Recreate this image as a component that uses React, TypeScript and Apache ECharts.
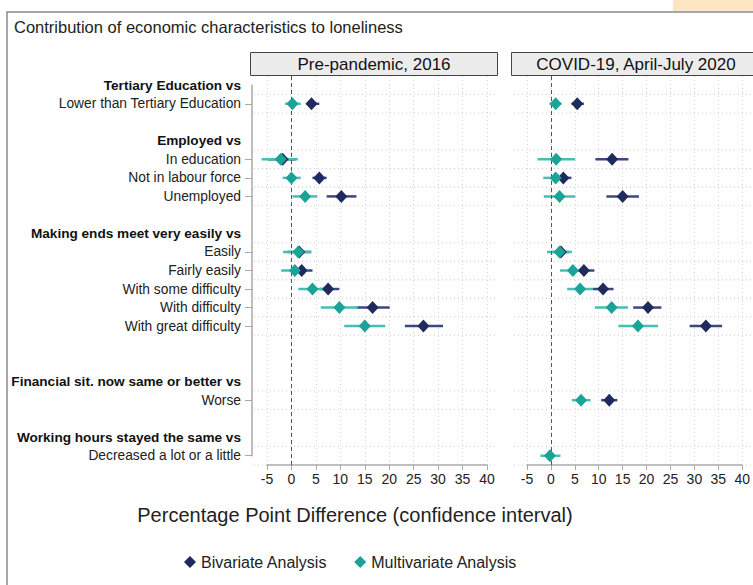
import React, { useEffect, useRef } from "react";
import * as echarts from "echarts";

const TITLE = "Contribution of economic characteristics to loneliness";
const PANEL_TITLES = ["Pre-pandemic, 2016", "COVID-19, April-July 2020"];
const AXIS_TITLE = "Percentage Point Difference (confidence interval)";
const SERIES_NAMES = ["Bivariate Analysis", "Multivariate Analysis"];

// y slots, top to bottom ("_gapN" = empty slot)
const rowKeys = [
  "Tertiary Education vs",
  "Lower than Tertiary Education",
  "_gap1",
  "Employed vs",
  "In education",
  "Not in labour force",
  "Unemployed",
  "_gap2",
  "Making ends meet very easily vs",
  "Easily",
  "Fairly easily",
  "With some difficulty",
  "With difficulty",
  "With great difficulty",
  "_gap3",
  "_gap4",
  "Financial sit. now same or better vs",
  "Worse",
  "_gap5",
  "Working hours stayed the same vs",
  "Decreased a lot or a little",
];
const headerRows = [
  "Tertiary Education vs",
  "Employed vs",
  "Making ends meet very easily vs",
  "Financial sit. now same or better vs",
  "Working hours stayed the same vs",
];
const dataRows = [
  "Lower than Tertiary Education",
  "In education",
  "Not in labour force",
  "Unemployed",
  "Easily",
  "Fairly easily",
  "With some difficulty",
  "With difficulty",
  "With great difficulty",
  "Worse",
  "Decreased a lot or a little",
];

// Pre-pandemic 2016
const pre_biv = [4.1, -1.8, 5.7, 10.2, 1.6, 2.1, 7.5, 16.6, 27.0, null, null];
const pre_biv_lo = [3.1, -4.8, 4.3, 7.2, -0.8, -0.2, 5.8, 13.3, 23.2, null, null];
const pre_biv_hi = [5.7, 0.9, 7.2, 13.3, 4.0, 4.3, 9.8, 20.1, 31.0, null, null];
const pre_mul = [0.2, -2.2, 0.0, 2.8, 1.4, 0.7, 4.3, 9.8, 15.0, null, null];
const pre_mul_lo = [-1.3, -6.1, -1.8, 0.2, -1.7, -2.1, 1.4, 6.0, 10.8, null, null];
const pre_mul_hi = [1.9, 1.3, 1.9, 5.3, 4.1, 3.3, 6.8, 13.6, 19.2, null, null];

// COVID-19 2020
const cov_biv = [5.5, 12.8, 2.6, 15.0, 2.1, 6.9, 10.9, 20.3, 32.4, 12.2, null];
const cov_biv_lo = [4.3, 9.3, 1.0, 11.6, 0.3, 4.8, 8.8, 17.2, 29.0, 10.5, null];
const cov_biv_hi = [6.9, 16.2, 4.3, 18.4, 3.8, 9.1, 13.1, 23.1, 35.8, 13.9, null];
const cov_mul = [1.0, 1.1, 1.0, 1.8, 1.8, 4.6, 6.1, 12.7, 18.2, 6.3, -0.2];
const cov_mul_lo = [-0.3, -2.8, -1.6, -1.5, -0.8, 1.9, 3.4, 9.2, 14.1, 4.4, -2.2];
const cov_mul_hi = [2.2, 5.1, 3.4, 5.1, 4.4, 7.0, 8.8, 16.1, 22.4, 8.3, 2.0];

const xTicks = { min: -5, max: 40, interval: 5 };

const NAVY = "#1f2a5e";
const NAVY_LINE = "#3b4780";
const TEAL = "#1ba398";
const TEAL_LINE = "#45bfb3";
const FONT = "'Liberation Sans', Arial, sans-serif";

const PLOT_TOP = 76;
const PLOT_H = 389;

export default function App() {
  const ref = useRef<HTMLDivElement>(null);
  useEffect(() => {
    document.body.style.margin = "0";
    const chart = echarts.init(ref.current!, null, { renderer: "svg" });
    const rowIndex = (k: string) => rowKeys.indexOf(k);
    const dataRowIdx = dataRows.map(rowIndex);

    const points = (vals: (number | null)[]) =>
      vals
        .map((v, i) => (v == null ? null : [v, dataRowIdx[i]]))
        .filter((d) => d !== null);
    const intervals = (lo: (number | null)[], hi: (number | null)[]) =>
      lo
        .map((l, i) => (l == null || hi[i] == null ? null : [l, hi[i], dataRowIdx[i]]))
        .filter((d) => d !== null);

    const gridLineSeries = (gi: number) => ({
      type: "custom",
      name: "grid" + gi,
      xAxisIndex: gi,
      yAxisIndex: gi,
      silent: true,
      z: 1,
      data: dataRowIdx.map((r) => [0, r]),
      encode: { x: 0, y: 1 },
      renderItem: (params: any, api: any) => {
        const c = api.coord([0, api.value(1)]);
        const h = api.size([0, 1])[1];
        const cs = params.coordSys;
        const x1 = cs.x - 13;
        const x2 = cs.x + cs.width + 10;
        const style = { stroke: "#cfcfcf", lineWidth: 1, lineDash: [1, 3] };
        return {
          type: "group",
          children: [
            { type: "line", shape: { x1, y1: c[1] - h / 2, x2, y2: c[1] - h / 2 }, style },
            { type: "line", shape: { x1, y1: c[1] + h / 2, x2, y2: c[1] + h / 2 }, style },
          ],
        };
      },
    });

    const ciSeries = (gi: number, name: string, data: any[], color: string) => ({
      type: "custom",
      name,
      xAxisIndex: gi,
      yAxisIndex: gi,
      silent: true,
      z: 3,
      data,
      encode: { x: [0, 1], y: 2 },
      renderItem: (_p: any, api: any) => {
        const a = api.coord([api.value(0), api.value(2)]);
        const b = api.coord([api.value(1), api.value(2)]);
        return {
          type: "line",
          shape: { x1: a[0], y1: a[1], x2: b[0], y2: b[1] },
          style: { stroke: color, lineWidth: 2.5 },
        };
      },
    });

    const ptSeries = (gi: number, name: string, data: any[], color: string, z: number) => ({
      type: "scatter",
      name,
      xAxisIndex: gi,
      yAxisIndex: gi,
      symbol: "diamond",
      symbolSize: [12, 13],
      itemStyle: { color, opacity: 1 },
      z,
      data,
      markLine:
        name === SERIES_NAMES[0]
          ? {
              silent: true,
              symbol: "none",
              label: { show: false },
              lineStyle: { color: "#555", type: [4, 3], width: 1 },
              data: [{ xAxis: 0 }],
            }
          : undefined,
    });

    const xAxisDef = (gi: number) => ({
      type: "value",
      gridIndex: gi,
      min: xTicks.min,
      max: xTicks.max,
      interval: xTicks.interval,
      axisLine: { show: true, lineStyle: { color: "#a8a8a8", width: 1.5 } },
      axisTick: { show: true, length: 5, lineStyle: { color: "#a8a8a8" } },
      axisLabel: { fontSize: 14, color: "#222", fontFamily: FONT, margin: 7 },
      splitLine: { show: true, lineStyle: { color: "#d6d6d6", type: [1, 3], width: 1 } },
    });
    const yAxisHidden = (gi: number) => ({
      type: "category",
      gridIndex: gi,
      data: rowKeys,
      inverse: true,
      boundaryGap: true,
      show: false,
    });

    const band = PLOT_H / rowKeys.length;

    chart.setOption({
      animation: false,
      backgroundColor: "#fff",
      grid: [
        { left: 267, width: 220, top: PLOT_TOP, height: PLOT_H },
        { left: 527, width: 221, top: PLOT_TOP, height: PLOT_H },
        { left: 252, width: 1, top: PLOT_TOP + band / 2, height: PLOT_H - band },
      ],
      xAxis: [xAxisDef(0), xAxisDef(1), { type: "value", gridIndex: 2, show: false }],
      yAxis: [
        yAxisHidden(0),
        yAxisHidden(1),
        {
          type: "category",
          gridIndex: 2,
          data: rowKeys,
          inverse: true,
          boundaryGap: false,
          axisLine: { show: true, lineStyle: { color: "#a8a8a8", width: 1.5 } },
          axisTick: {
            show: true,
            length: 7,
            lineStyle: { color: "#a8a8a8" },
            interval: (_i: number, v: string) => dataRows.includes(v),
          },
          axisLabel: {
            interval: 0,
            margin: 11,
            fontSize: 13.8,
            color: "#222",
            fontFamily: FONT,
            formatter: (v: string) =>
              v.startsWith("_gap") ? "" : headerRows.includes(v) ? `{b|${v}}` : v,
            rich: {
              b: { fontWeight: "bold", fontSize: 13.6, color: "#111", fontFamily: FONT },
            },
          },
          splitLine: { show: false },
        },
      ],
      legend: {
        data: SERIES_NAMES,
        left: 179,
        top: 549,
        icon: "diamond",
        itemWidth: 12,
        itemHeight: 12,
        itemGap: 27,
        textStyle: { fontSize: 16, color: "#222", fontFamily: FONT },
      },
      graphic: [
        { type: "rect", shape: { x: 673, y: 0, width: 80, height: 11 }, style: { fill: "#fde5c2" }, silent: true },
        {
          type: "rect",
          shape: { x: 7, y: 12, width: 800, height: 600 },
          style: { fill: "none", stroke: "#8a8a8a", lineWidth: 1.5 },
          silent: true,
        },
        {
          type: "text",
          x: 14,
          y: 27,
          style: { text: TITLE, fontSize: 16.5, fill: "#222", fontFamily: FONT, verticalAlign: "middle" },
        },
        {
          type: "rect",
          shape: { x: 250.5, y: 52.5, width: 247, height: 23 },
          style: { fill: "#ececec", stroke: "#444", lineWidth: 1 },
        },
        {
          type: "rect",
          shape: { x: 511.5, y: 52.5, width: 260, height: 23 },
          style: { fill: "#ececec", stroke: "#444", lineWidth: 1 },
        },
        {
          type: "text",
          x: 374,
          y: 64,
          style: {
            text: PANEL_TITLES[0], fontSize: 17, fill: "#111", fontFamily: FONT,
            align: "center", verticalAlign: "middle",
          },
        },
        {
          type: "text",
          x: 636,
          y: 64,
          style: {
            text: PANEL_TITLES[1], fontSize: 17, fill: "#111", fontFamily: FONT,
            align: "center", verticalAlign: "middle",
          },
        },
        {
          type: "text",
          x: 355,
          y: 515,
          style: {
            text: AXIS_TITLE, fontSize: 20, fill: "#222", fontFamily: FONT,
            align: "center", verticalAlign: "middle",
          },
        },
      ],
      series: [
        gridLineSeries(0),
        gridLineSeries(1),
        ciSeries(0, "ci-biv-0", intervals(pre_biv_lo, pre_biv_hi), NAVY_LINE),
        ciSeries(0, "ci-mul-0", intervals(pre_mul_lo, pre_mul_hi), TEAL_LINE),
        ciSeries(1, "ci-biv-1", intervals(cov_biv_lo, cov_biv_hi), NAVY_LINE),
        ciSeries(1, "ci-mul-1", intervals(cov_mul_lo, cov_mul_hi), TEAL_LINE),
        ptSeries(0, SERIES_NAMES[0], points(pre_biv), NAVY, 4),
        ptSeries(0, SERIES_NAMES[1], points(pre_mul), TEAL, 5),
        ptSeries(1, SERIES_NAMES[0], points(cov_biv), NAVY, 4),
        ptSeries(1, SERIES_NAMES[1], points(cov_mul), TEAL, 5),
      ],
    });
    return () => chart.dispose();
  }, []);
  return <div ref={ref} style={{ width: 753, height: 585 }} />;
}
